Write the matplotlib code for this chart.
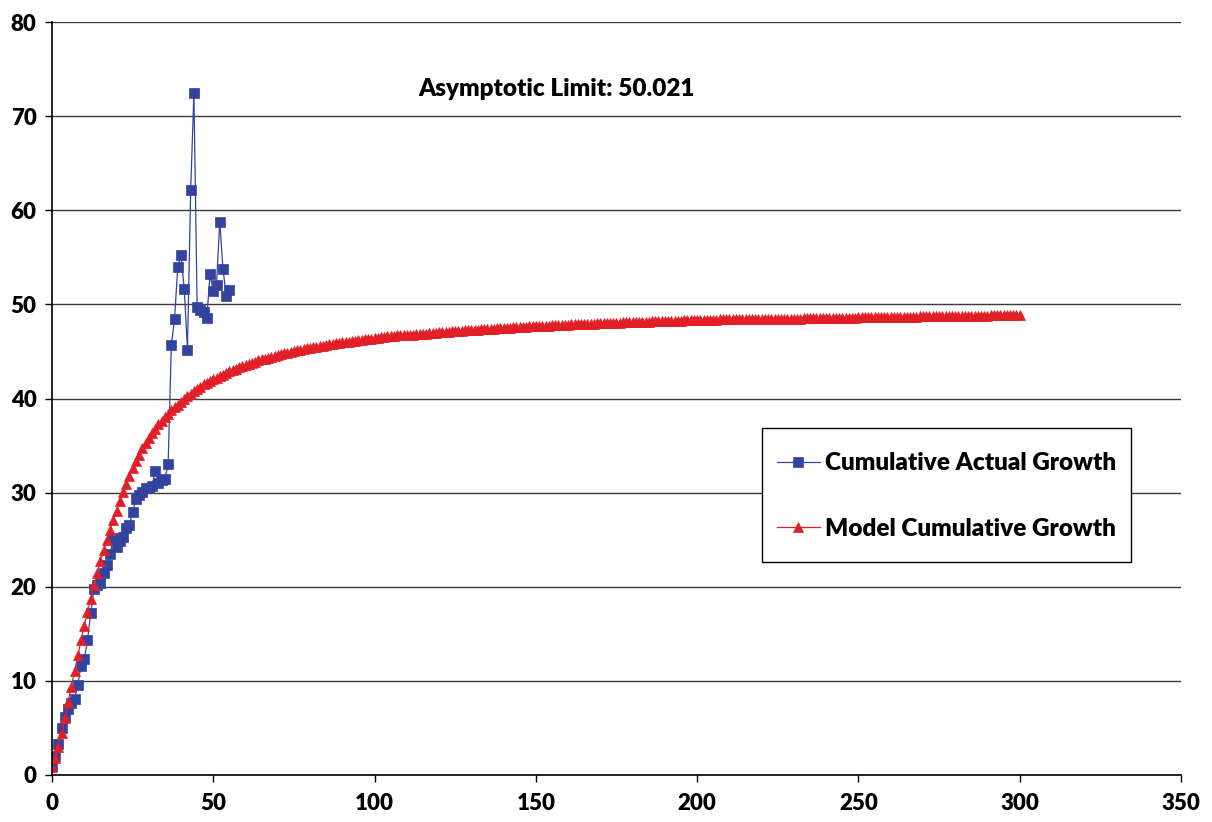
import matplotlib
matplotlib.use("Agg")
import matplotlib.pyplot as plt
from matplotlib.patches import Rectangle

plt.rcParams['font.family'] = ['Lato', 'DejaVu Sans']

# Cumulative actual growth (x = 0..55)
actual_x = list(range(0, 56))
actual_y = [1.0, 2.0, 3.3, 5.0, 6.2, 7.0, 7.6, 8.1, 9.6, 11.6,
            12.3, 14.3, 17.2, 19.8, 20.2, 20.4, 21.5, 22.3, 23.5, 25.2,
            24.2, 24.9, 25.3, 26.2, 26.6, 27.9, 29.3, 29.8, 30.1, 30.5,
            30.5, 30.7, 32.3, 31.0, 31.3, 31.5, 33.0, 45.7, 48.5, 54.0,
            55.3, 51.6, 45.2, 62.2, 72.5, 49.7, 49.4, 49.2, 48.6, 53.2,
            51.4, 52.1, 58.8, 53.8, 50.9, 51.5]

# Model cumulative growth (x = 0..300)
model_x = list(range(0, 301))
model_y = [
    0.9, 1.8, 3.0, 4.5, 6.1, 7.75, 9.4, 11.05, 12.7, 14.3,
    15.85, 17.3, 18.75, 20.15, 21.45, 22.7, 23.9, 25.0, 26.05, 27.1,
    28.1, 29.1, 30.05, 30.95, 31.8, 32.6, 33.35, 34.05, 34.7, 35.3,
    35.85, 36.35, 36.8, 37.25, 37.65, 38.05, 38.4, 38.75, 39.05, 39.35,
    39.65, 39.95, 40.25, 40.5, 40.75, 41.0, 41.25, 41.5, 41.7, 41.85,
    42.02, 42.19, 42.37, 42.55, 42.71, 42.87, 43.02, 43.17, 43.31, 43.44,
    43.57, 43.69, 43.81, 43.93, 44.04, 44.15, 44.25, 44.35, 44.44, 44.54,
    44.63, 44.71, 44.80, 44.88, 44.96, 45.03, 45.11, 45.18, 45.25, 45.32,
    45.39, 45.45, 45.51, 45.57, 45.63, 45.69, 45.75, 45.80, 45.85, 45.91,
    45.96, 46.01, 46.05, 46.10, 46.15, 46.19, 46.24, 46.28, 46.32, 46.36,
    46.40,
    46.4,
    46.5, 46.5,
    46.6, 46.6, 46.6,
    46.7, 46.7, 46.7,
    46.8, 46.8, 46.8,
    46.9, 46.9, 46.9, 46.9,
    47.0, 47.0, 47.0,
    47.1, 47.1, 47.1, 47.1,
    47.2, 47.2, 47.2, 47.2,
    47.3, 47.3, 47.3, 47.3, 47.3,
    47.4, 47.4, 47.4, 47.4, 47.4,
    47.5, 47.5, 47.5, 47.5, 47.5,
    47.6, 47.6, 47.6, 47.6, 47.6,
    47.7, 47.7, 47.7, 47.7, 47.7, 47.7, 47.7,
    47.8, 47.8, 47.8, 47.8, 47.8, 47.8,
    47.9, 47.9, 47.9, 47.9, 47.9, 47.9, 47.9, 47.9,
    48.0, 48.0, 48.0, 48.0, 48.0, 48.0, 48.0, 48.0,
    48.1, 48.1, 48.1, 48.1, 48.1, 48.1, 48.1, 48.1, 48.1,
    48.2, 48.2, 48.2, 48.2, 48.2, 48.2, 48.2, 48.2, 48.2, 48.2,
    48.3, 48.3, 48.3, 48.3, 48.3, 48.3, 48.3, 48.3, 48.3, 48.3, 48.3,
    48.4, 48.4, 48.4, 48.4, 48.4, 48.4, 48.4, 48.4, 48.4, 48.4, 48.4, 48.4,
    48.5, 48.5, 48.5, 48.5, 48.5, 48.5, 48.5, 48.5, 48.5, 48.5, 48.5, 48.5, 48.5, 48.5,
    48.6, 48.6, 48.6, 48.6, 48.6, 48.6, 48.6, 48.6, 48.6, 48.6, 48.6, 48.6, 48.6, 48.6,
    48.6, 48.6, 48.6,
    48.7, 48.7, 48.7, 48.7, 48.7, 48.7, 48.7, 48.7, 48.7, 48.7, 48.7, 48.7, 48.7, 48.7,
    48.7, 48.7, 48.7, 48.7, 48.7,
    48.8, 48.8, 48.8, 48.8, 48.8, 48.8, 48.8, 48.8, 48.8, 48.8, 48.8, 48.8, 48.8, 48.8,
    48.8, 48.8, 48.8, 48.8, 48.8, 48.8, 48.8, 48.8,
    48.9, 48.9, 48.9, 48.9, 48.9, 48.9, 48.9, 48.9, 48.9, 48.9,
]

x_ticks = [0, 50, 100, 150, 200, 250, 300, 350]
y_ticks = [0, 10, 20, 30, 40, 50, 60, 70, 80]
annotation = "Asymptotic Limit: 50.021"
label_actual = "Cumulative Actual Growth"
label_model = "Model Cumulative Growth"

blue = "#3343A0"
red = "#E21F27"
weight = 'heavy'

fig = plt.figure(figsize=(12.12, 8.22), dpi=100)
ax = fig.add_axes([0.0429, 0.0572, 0.9315, 0.916])

ax.plot(actual_x, actual_y, color=blue, lw=0.9, marker='s', ms=6.8,
        mfc=blue, mec=blue, mew=0.5, label=label_actual, zorder=3)
ax.plot(model_x, model_y, color=red, lw=0.9, marker='^', ms=7.3,
        mfc=red, mec=red, mew=0.5, label=label_model, zorder=4)

ax.set_xlim(0, 350)
ax.set_ylim(0, 80)
ax.set_xticks(x_ticks)
ax.set_yticks(y_ticks)
ax.set_xticklabels([str(t) for t in x_ticks], fontsize=16, fontweight=weight)
ax.set_yticklabels([str(t) for t in y_ticks], fontsize=16, fontweight=weight)
ax.tick_params(axis='both', direction='out', length=5, width=1, color='black')
ax.tick_params(axis='x', pad=8)
ax.tick_params(axis='y', pad=6)

ax.yaxis.grid(True, color='#3a3a3a', lw=1.0)
ax.set_axisbelow(True)
for s in ['top', 'right']:
    ax.spines[s].set_visible(False)
for s in ['left', 'bottom']:
    ax.spines[s].set_color('black')
    ax.spines[s].set_linewidth(1.2)
    ax.spines[s].set_zorder(5)

ax.text(113.5, 72.9, annotation, fontsize=17.5, fontweight=weight,
        ha='left', va='center', color='black')

# legend box frame
box = Rectangle((0.6289, 0.2829), 0.9557 - 0.6289, 0.4608 - 0.2829,
                transform=ax.transAxes, facecolor='white', edgecolor='black',
                lw=1.0, zorder=6)
ax.add_patch(box)

leg = ax.legend(loc='upper left', bbox_to_anchor=(0.6262, 0.453),
                prop={'weight': weight, 'size': 17.5},
                frameon=False, borderpad=0.75, labelspacing=1.8,
                handlelength=1.75, handletextpad=0.2, borderaxespad=0)
leg.set_zorder(7)
for h in leg.legend_handles:
    h.set_markersize(7)

fig.savefig("out.png", dpi=100)
